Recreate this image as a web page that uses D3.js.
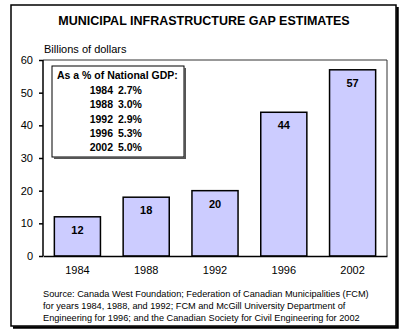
<!DOCTYPE html>
<html>
<head>
<meta charset="utf-8">
<script src="https://cdn.jsdelivr.net/npm/d3@7"></script>
<style>
  body { margin: 0; background: #fff; }
  svg { display: block; font-family: "Liberation Sans", Arial, sans-serif; }
</style>
</head>
<body>
<div id="chart"></div>
<script>
// data
const years = ["1984", "1988", "1992", "1996", "2002"];
const gaps = [12, 18, 20, 44, 57];
const gdpShare = ["2.7%", "3.0%", "2.9%", "5.3%", "5.0%"];
const yTicks = [0, 10, 20, 30, 40, 50, 60];
const sourceLines = [
  "Source: Canada West Foundation; Federation of Canadian Municipalities (FCM)",
  "for years 1984, 1988, and 1992; FCM and McGill University Department of",
  "Engineering for 1996; and the Canadian Society for Civil Engineering for 2002"
];

const width = 405;
const height = 336;
const margin = {top: 60, right: 18, bottom: 80, left: 43};
const innerWidth = width - margin.left - margin.right;
const innerHeight = 256 - margin.top;

const svg = d3.select("#chart")
  .append("svg")
    .attr("width", width)
    .attr("height", height);

// outer frame, with a drop shadow drawn as two thick lines
svg.append("rect")
    .attr("x", 11).attr("y", 5)
    .attr("width", 385).attr("height", 321)
    .attr("fill", "none")
    .attr("stroke", "#000")
    .attr("stroke-width", 1.5);
svg.append("path")
    .attr("d", "M397.5,7V327.5H13")
    .attr("fill", "none")
    .attr("stroke", "#000")
    .attr("stroke-width", 2.5);

svg.append("text")
    .text("MUNICIPAL INFRASTRUCTURE GAP ESTIMATES")
    .attr("x", 204)
    .attr("y", 25)
    .attr("text-anchor", "middle")
    .style("font-weight", "bold")
    .style("font-size", "12.5px");

svg.append("text")
    .text("Billions of dollars")
    .attr("x", 44)
    .attr("y", 53)
    .style("font-size", "11px");

const xScale = d3.scaleBand()
  .domain(years)
  .range([margin.left, margin.left + innerWidth])
  .paddingInner(0.33)
  .paddingOuter(0.165);

const yScale = d3.scaleLinear()
  .domain([0, 60])
  .range([margin.top + innerHeight, margin.top]);

// plot frame (top & right)
svg.append("path")
    .attr("d", `M${margin.left},${margin.top}H${margin.left + innerWidth}V${margin.top + innerHeight}`)
    .attr("fill", "none")
    .attr("stroke", "#333")
    .attr("stroke-width", 1);

svg.selectAll(".bar")
  .data(years)
  .join("rect")
    .attr("class", "bar")
    .attr("x", d => xScale(d))
    .attr("y", (d, i) => yScale(gaps[i]))
    .attr("width", xScale.bandwidth())
    .attr("height", (d, i) => yScale(0) - yScale(gaps[i]))
    .attr("fill", "#ccccff")
    .attr("stroke", "#000")
    .attr("stroke-width", 1.5);

svg.selectAll(".bar-label")
  .data(years)
  .join("text")
    .attr("class", "bar-label")
    .text((d, i) => gaps[i])
    .attr("x", d => xScale(d) + xScale.bandwidth() / 2)
    .attr("y", (d, i) => yScale(gaps[i]) + 17)
    .attr("text-anchor", "middle")
    .style("font-weight", "bold")
    .style("font-size", "11px");

const leftAxis = d3.axisLeft(yScale)
  .tickValues(yTicks)
  .tickSize(4)
  .tickPadding(6);
svg.append("g")
    .attr("class", "axis-y")
    .attr("transform", `translate(${margin.left}, 0)`)
    .call(leftAxis);

const bottomAxis = d3.axisBottom(xScale)
  .tickSize(0)
  .tickPadding(10);
svg.append("g")
    .attr("class", "axis-x")
    .attr("transform", `translate(0, ${yScale(0)})`)
    .call(bottomAxis);

d3.selectAll(".axis-y path, .axis-x path, .axis-y line")
    .attr("stroke", "#000")
    .attr("stroke-width", 1.5);
d3.selectAll(".axis-y text, .axis-x text")
    .style("font-family", "'Liberation Sans', Arial, sans-serif")
    .style("font-size", "11px")
    .attr("fill", "#000");
d3.select(".axis-y path").attr("d", `M0,${yScale(0)}V${yScale(60)}`);

// inset box with GDP shares
const boxX = 52;
const boxY = 66;
const boxW = 132;
const boxH = 91;
svg.append("rect")
    .attr("x", boxX).attr("y", boxY)
    .attr("width", boxW).attr("height", boxH)
    .attr("fill", "#fff")
    .attr("stroke", "#000")
    .attr("stroke-width", 1);
svg.append("path")
    .attr("d", `M${boxX + boxW + 1},${boxY + 2}V${boxY + boxH + 1}H${boxX + 2}`)
    .attr("fill", "none")
    .attr("stroke", "#555")
    .attr("stroke-width", 2);
svg.append("text")
    .text("As a % of National GDP:")
    .attr("x", boxX + 5)
    .attr("y", boxY + 13)
    .style("font-weight", "bold")
    .style("font-size", "10.5px");
svg.selectAll(".gdp-year")
  .data(years)
  .join("text")
    .attr("class", "gdp-year")
    .text(d => d)
    .attr("x", boxX + 61)
    .attr("y", (d, i) => boxY + 28 + i * 14.3)
    .attr("text-anchor", "end")
    .style("font-weight", "bold")
    .style("font-size", "10.5px");
svg.selectAll(".gdp-share")
  .data(gdpShare)
  .join("text")
    .attr("class", "gdp-share")
    .text(d => d)
    .attr("x", boxX + 66)
    .attr("y", (d, i) => boxY + 28 + i * 14.3)
    .style("font-weight", "bold")
    .style("font-size", "10.5px");

svg.selectAll(".source")
  .data(sourceLines)
  .join("text")
    .attr("class", "source")
    .text(d => d)
    .attr("x", 43)
    .attr("y", (d, i) => 297 + i * 12)
    .style("font-size", "9.2px");
</script>
</body>
</html>
